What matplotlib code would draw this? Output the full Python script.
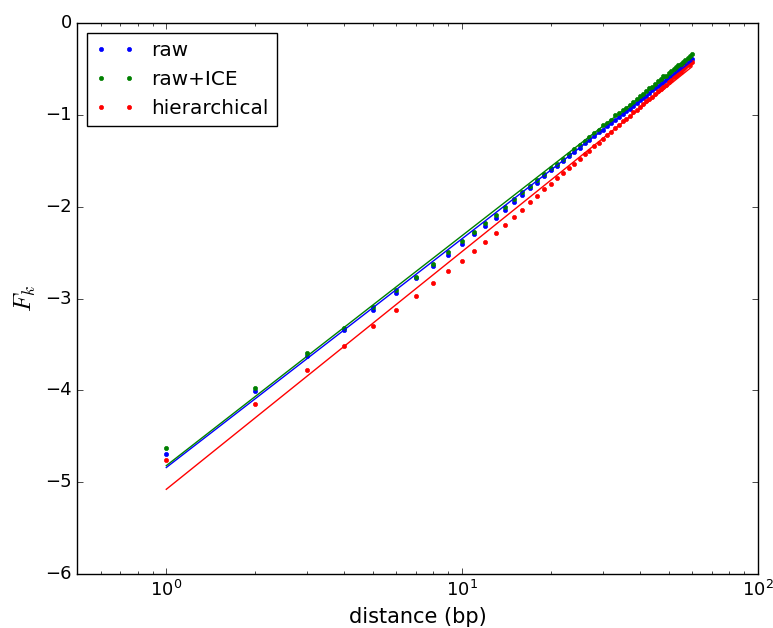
import numpy as np
import matplotlib
matplotlib.use("Agg")
import matplotlib.pyplot as plt

# distances (bp)
distance = list(range(1, 61))

raw = [-4.69, -4.01, -3.62, -3.34, -3.12, -2.94, -2.78, -2.65, -2.52, -2.40,
       -2.30, -2.21, -2.12, -2.03, -1.95, -1.87, -1.80, -1.74, -1.66, -1.60,
       -1.55, -1.50, -1.45, -1.40, -1.36, -1.31, -1.27, -1.23, -1.19, -1.16,
       -1.12, -1.09, -1.05, -1.02, -0.99, -0.96, -0.93, -0.90, -0.87, -0.84,
       -0.81, -0.79, -0.76, -0.73, -0.71, -0.68, -0.66, -0.64, -0.62, -0.59,
       -0.57, -0.55, -0.53, -0.51, -0.49, -0.47, -0.45, -0.43, -0.41, -0.39]

raw_ice = [-4.63, -3.97, -3.59, -3.32, -3.09, -2.91, -2.76, -2.62, -2.49, -2.37,
           -2.27, -2.18, -2.09, -2.00, -1.92, -1.84, -1.77, -1.71, -1.64, -1.58,
           -1.53, -1.48, -1.42, -1.37, -1.33, -1.28, -1.24, -1.20, -1.16, -1.11,
           -1.09, -1.05, -1.00, -0.98, -0.95, -0.92, -0.89, -0.86, -0.82, -0.79,
           -0.77, -0.74, -0.71, -0.69, -0.66, -0.63, -0.61, -0.58, -0.57, -0.54,
           -0.52, -0.50, -0.48, -0.46, -0.44, -0.42, -0.40, -0.38, -0.36, -0.34]

hierarchical = [-4.76, -4.15, -3.78, -3.52, -3.30, -3.12, -2.97, -2.83, -2.70, -2.59,
                -2.48, -2.38, -2.29, -2.20, -2.11, -2.03, -1.95, -1.88, -1.81, -1.75,
                -1.69, -1.63, -1.58, -1.53, -1.48, -1.43, -1.39, -1.34, -1.30, -1.26,
                -1.22, -1.18, -1.14, -1.11, -1.07, -1.04, -1.01, -0.97, -0.94, -0.91,
                -0.88, -0.85, -0.82, -0.80, -0.77, -0.74, -0.72, -0.69, -0.67, -0.64,
                -0.62, -0.59, -0.57, -0.55, -0.53, -0.50, -0.48, -0.46, -0.44, -0.42]

labels = ["raw", "raw+ICE", "hierarchical"]
colors = ["b", "g", "r"]

plt.style.use("classic")
fig = plt.figure(figsize=(7.73, 6.28), dpi=100, facecolor="w")
ax = fig.add_axes([0.100, 0.086, 0.880, 0.877])

x = np.array(distance, dtype=float)
for series, label, c in zip([raw, raw_ice, hierarchical], labels, colors):
    ax.plot(x, series, ".", color=c, label=label, markersize=6, markeredgecolor=c)

# linear fit of F_k against log10(distance)
for series, c in zip([raw, raw_ice, hierarchical], colors):
    slope, icept = np.polyfit(np.log10(x), series, 1)
    ax.plot(x, icept + slope * np.log10(x), "-", color=c, linewidth=1)

ax.set_xscale("log")
ax.set_xlim(0.5, 100)
ax.set_ylim(-6, 0)
ax.tick_params(labelsize=13)
ax.set_xlabel("distance (bp)", fontsize=15)
ax.set_ylabel("$F_k$", fontsize=18)
ax.legend(loc="upper left", numpoints=2, fontsize=14.4)

fig.savefig("out.png", dpi=100, facecolor="w")
